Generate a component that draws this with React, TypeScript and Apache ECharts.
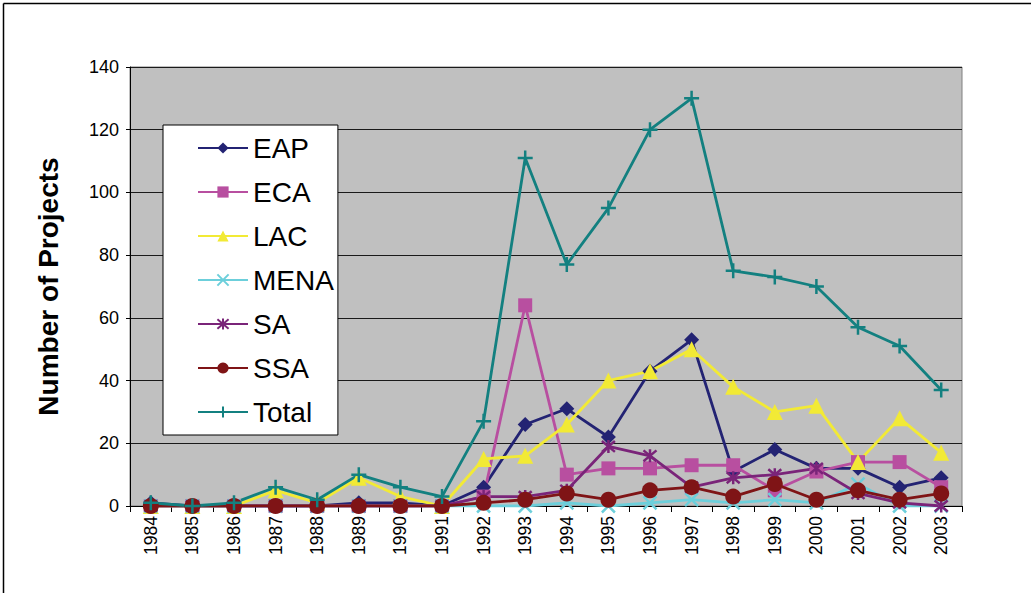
import React, { useEffect, useRef } from "react";
import * as echarts from "echarts";

const years = ["1984","1985","1986","1987","1988","1989","1990","1991","1992","1993","1994","1995","1996","1997","1998","1999","2000","2001","2002","2003"];
const EAP = [1,0,0,0,0,1,1,0,6,26,31,22,43,53,11,18,12,12,6,9];
const ECA = [0,0,0,0,0,0,0,0,3,64,10,12,12,13,13,5,11,14,14,6];
const LAC = [0,0,0,5,1,9,3,0,15,16,26,40,43,50,38,30,32,14,28,17];
const MENA = [0,0,0,0,0,0,0,0,0,0,1,0,1,2,1,2,1,7,0,0];
const SA = [0,0,0,0,0,0,0,0,3,3,5,19,16,6,9,10,12,4,1,0];
const SSA = [0,0,0,0,0,0,0,0,1,2,4,2,5,6,3,7,2,5,2,4];
const Total = [1,0,1,6,2,10,6,3,27,111,77,95,120,130,75,73,70,57,51,37];
const yTicks = [0, 20, 40, 60, 80, 100, 120, 140];

const FONT = "Arial, 'Liberation Sans', sans-serif";

export default function App() {
  const ref = useRef<HTMLDivElement>(null);
  useEffect(() => {
    if (!ref.current) return;
    const chart = echarts.init(ref.current, undefined, { renderer: "svg" });
    const mk = (name: string, data: number[], color: string, symbol: string, size: number, stroke = false) => ({
      name,
      type: "line",
      data,
      symbol,
      symbolSize: size,
      showSymbol: true,
      lineStyle: { color, width: 2.8 },
      itemStyle: stroke
        ? { color, borderColor: color, borderWidth: 2.5 }
        : { color, borderWidth: 0 },
      emphasis: { disabled: true },
    });
    chart.setOption({
      animation: false,
      textStyle: { fontFamily: FONT },
      grid: {
        left: 130, right: 69, top: 67, bottom: 87,
        show: true, backgroundColor: "#C0C0C0", borderColor: "#808080", borderWidth: 1,
      },
      legend: {
        orient: "vertical",
        left: 163, top: 125,
        backgroundColor: "#FFFFFF",
        borderColor: "#000000", borderWidth: 1,
        padding: [9, 4, 9, 34],
        itemGap: 16,
        itemWidth: 50, itemHeight: 14,
        textStyle: { fontSize: 28, color: "#000", fontFamily: FONT },
        data: ["EAP", "ECA", "LAC", "MENA", "SA", "SSA", "Total"],
      },
      xAxis: {
        type: "category",
        data: years,
        boundaryGap: true,
        axisLine: { lineStyle: { color: "#000", width: 1 } },
        axisTick: { show: true, length: 6, lineStyle: { color: "#000" } },
        axisLabel: { rotate: 90, fontSize: 17.5, color: "#000", margin: 10, fontFamily: FONT, interval: 0 },
        splitLine: { show: false },
      },
      yAxis: {
        type: "value",
        min: yTicks[0], max: yTicks[yTicks.length - 1], interval: 20,
        name: "Number of Projects",
        nameLocation: "middle",
        nameGap: 68,
        nameTextStyle: { fontSize: 28, fontWeight: "bold", color: "#000", fontFamily: FONT },
        axisLine: { show: true, lineStyle: { color: "#000", width: 1 } },
        axisTick: { show: true, length: 4, lineStyle: { color: "#000" } },
        axisLabel: { fontSize: 18, color: "#000", margin: 11, fontFamily: FONT },
        splitLine: { show: true, lineStyle: { color: "#1a1a1a", width: 1 } },
      },
      graphic: [
        { type: "line", shape: { x1: 3.5, y1: 3.5, x2: 1031, y2: 3.5 }, style: { stroke: "#000", lineWidth: 1.5 } },
        { type: "line", shape: { x1: 3.5, y1: 3.5, x2: 3.5, y2: 593 }, style: { stroke: "#000", lineWidth: 1.5 } },
      ],
      series: [
        mk("EAP", EAP, "#232373", "diamond", 15),
        mk("ECA", ECA, "#B84FA0", "rect", 14),
        mk("LAC", LAC, "#F2EA35", "triangle", 16),
        mk("MENA", MENA, "#6CCFDB", "path://M0,0L10,10M10,0L0,10", 13, true),
        mk("SA", SA, "#7A2479", "path://M0,0L10,10M10,0L0,10M5,-1L5,11", 13, true),
        mk("SSA", SSA, "#7F1416", "circle", 16),
        mk("Total", Total, "#138080", "path://M0,5L10,5M5,0L5,10", 15, true),
      ],
    });
    return () => chart.dispose();
  }, []);
  return <div ref={ref} style={{ position: "fixed", left: 0, top: 0, width: 1031, height: 593, background: "#fff" }} />;
}
